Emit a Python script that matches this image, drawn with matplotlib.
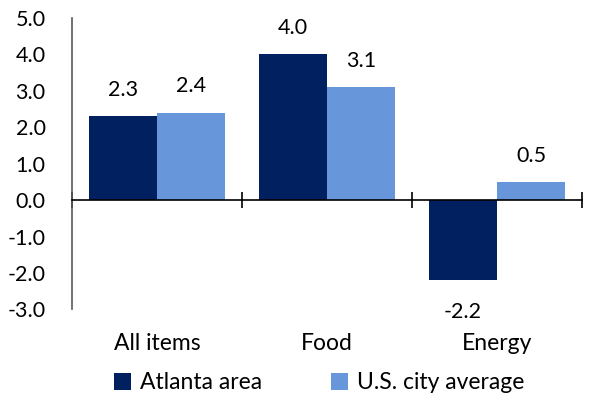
import matplotlib.pyplot as plt
import numpy as np
from matplotlib.patches import Patch

# ============================================================
# Data
# ============================================================

categories = ["All items", "Food", "Energy"]
series_names = ["Atlanta area", "U.S. city average"]
atlanta = [2.3, 4.0, -2.2]
us_avg = [2.4, 3.1, 0.5]
y_ticks = [-3.0, -2.0, -1.0, 0.0, 1.0, 2.0, 3.0, 4.0, 5.0]

colors = ["#002060", "#6896DA"]

plt.rcParams["font.family"] = ["Lato", "DejaVu Sans"]
FS = 15.5

# ============================================================
# Figure
# ============================================================

fig = plt.figure(figsize=(5.97, 4.0), dpi=100)
ax = fig.add_axes([0.1206, 0.2263, 0.9749 - 0.1206, 0.955 - 0.2263])

x = np.arange(len(categories))
width = 0.4

for i, (vals, col) in enumerate(zip([atlanta, us_avg], colors)):
    xs = x - width / 2 + i * width
    ax.bar(xs, vals, width, color=col, edgecolor="none", zorder=2)
    for xi, v in zip(xs, vals):
        off = 19 if v >= 0 else -23
        ax.annotate(f"{v:.1f}", (xi, v), xytext=(0, off),
                    textcoords="offset points", ha="center", va="center",
                    fontsize=FS, color="#000000")

ax.set_xlim(-0.5, len(categories) - 0.5)
ax.set_ylim(-3, 5)
ax.set_yticks(y_ticks)
ax.set_yticklabels([f"{t:.1f}" for t in y_ticks], fontsize=FS)
ax.tick_params(axis="y", length=0, pad=19)

ax.spines["top"].set_visible(False)
ax.spines["right"].set_visible(False)
ax.spines["left"].set_color("#595959")
ax.spines["left"].set_linewidth(1.2)
ax.spines["bottom"].set_position(("data", 0))
ax.spines["bottom"].set_color("#000000")
ax.spines["bottom"].set_linewidth(1.2)

ax.set_xticks(np.arange(-0.5, len(categories), 1.0))
ax.set_xticklabels([])
ax.tick_params(axis="x", direction="inout", length=12, width=1.2,
               color="#000000")

for xi, cat in zip(x, categories):
    ax.text(xi, -0.115, cat, transform=ax.get_xaxis_transform(),
            ha="center", va="center", fontsize=16.5)

handles = [Patch(facecolor=c, edgecolor="none") for c in colors]
fig.legend(handles, series_names, loc="center", bbox_to_anchor=(0.535, 0.043),
           ncol=2, frameon=False, fontsize=16.5, handlelength=0.75,
           handleheight=0.75, handletextpad=0.4, columnspacing=3.0)

plt.savefig("out.png", dpi=100)
plt.close()
